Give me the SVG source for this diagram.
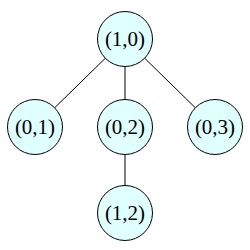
<svg xmlns="http://www.w3.org/2000/svg" width="250" height="250" viewBox="0 0 250 250">
<style>
.n circle{fill:#e0ffff;stroke:#000;stroke-width:1}
.n text{font-family:"Liberation Serif","Times New Roman",serif;font-size:21px;text-anchor:middle;fill:#000}
.e line{stroke:#000;stroke-width:1}
</style>
<rect width="250" height="250" fill="#fff"/>
<g id="edges" class="e">
<line x1="125" y1="39" x2="35" y2="127"/>
<line x1="125" y1="39" x2="125" y2="127"/>
<line x1="125" y1="39" x2="215" y2="127"/>
<line x1="125" y1="127" x2="125" y2="213"/>
</g>
<g id="n10" class="n"><circle cx="125" cy="39" r="27.5"/><text x="125" y="46">(1,0)</text></g>
<g id="n01" class="n"><circle cx="35" cy="127" r="27.5"/><text x="35" y="134">(0,1)</text></g>
<g id="n02" class="n"><circle cx="125" cy="127" r="27.5"/><text x="125" y="134">(0,2)</text></g>
<g id="n03" class="n"><circle cx="215" cy="127" r="27.5"/><text x="215" y="134">(0,3)</text></g>
<g id="n12" class="n"><circle cx="125" cy="213" r="27.5"/><text x="125" y="220">(1,2)</text></g>
</svg>
